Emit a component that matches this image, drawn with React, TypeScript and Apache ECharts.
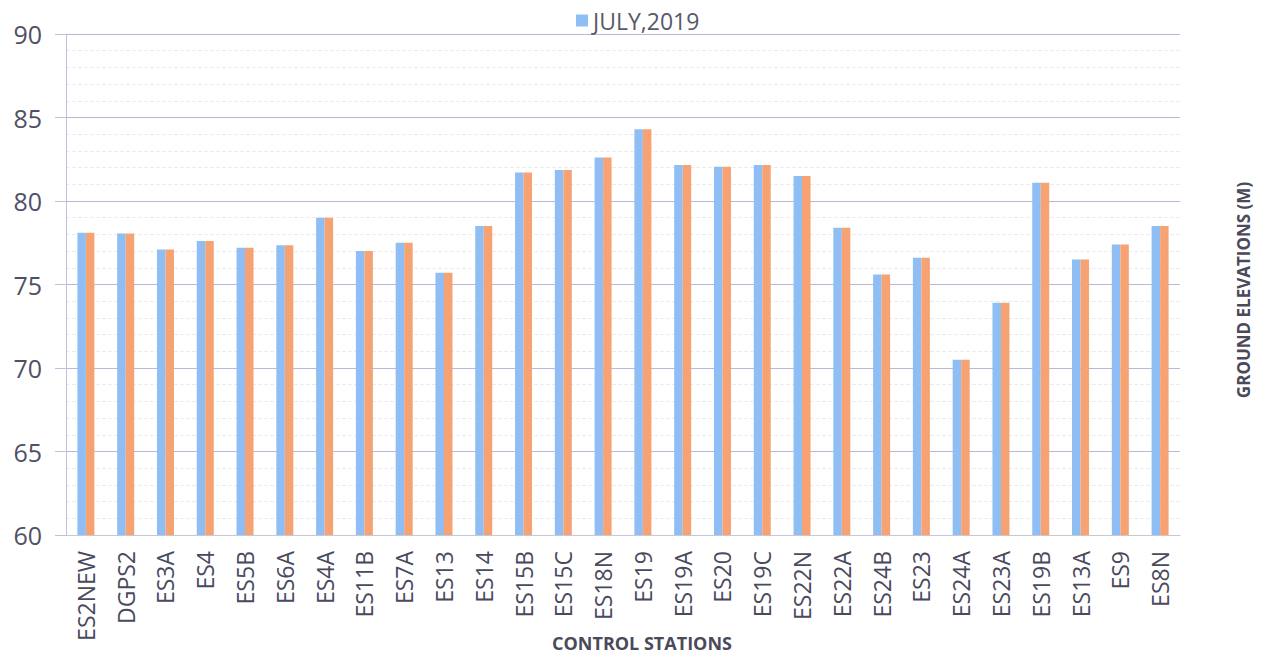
import React, { useEffect, useRef } from "react";
import * as echarts from "echarts";

const stations = ["ES2NEW","DGPS2","ES3A","ES4","ES5B","ES6A","ES4A","ES11B","ES7A","ES13","ES14","ES15B","ES15C","ES18N","ES19","ES19A","ES20","ES19C","ES22N","ES22A","ES24B","ES23","ES24A","ES23A","ES19B","ES13A","ES9","ES8N"];
const july2019 = [78.1,78.05,77.1,77.6,77.2,77.35,79.0,77.0,77.5,75.7,78.5,81.7,81.85,82.6,84.3,82.15,82.05,82.15,81.5,78.4,75.6,76.6,70.5,73.9,81.1,76.5,77.4,78.5];
const secondSeries = [78.1,78.05,77.1,77.6,77.2,77.35,79.0,77.0,77.5,75.7,78.5,81.7,81.85,82.6,84.3,82.15,82.05,82.15,81.5,78.4,75.6,76.6,70.5,73.9,81.1,76.5,77.4,78.5];

export default function App() {
  const ref = useRef<HTMLDivElement>(null);
  useEffect(() => {
    document.body.style.margin = "0";
    const chart = echarts.init(ref.current!, null, { renderer: "svg" });
    const font = "'Open Sans', 'Liberation Sans', sans-serif";
    const textColor = "#58586a";
    chart.setOption({
      animation: false,
      backgroundColor: "#ffffff",
      textStyle: { fontFamily: font },
      legend: {
        data: ["JULY,2019"],
        top: 4,
        left: 571,
        icon: "rect",
        itemWidth: 12,
        itemHeight: 12,
        itemGap: 6,
        textStyle: { fontSize: 23, color: textColor, fontFamily: font },
      },
      grid: { left: 66, right: 93, top: 34, bottom: 120, containLabel: false },
      xAxis: {
        type: "category",
        data: stations,
        axisLine: { show: true, lineStyle: { color: "#c8c8d4", width: 1 } },
        axisTick: { show: false },
        axisLabel: { rotate: 90, fontSize: 23, color: "#4a4a5e", margin: 16, interval: 0, fontFamily: font },
      },
      yAxis: {
        type: "value",
        min: 60,
        max: 90,
        interval: 5,
        axisLine: { show: true, lineStyle: { color: "#c0c0dc", width: 1 } },
        axisTick: { show: true, length: 11, lineStyle: { color: "#c0c0dc" } },
        axisLabel: { fontSize: 25, color: "#505064", margin: 24, fontFamily: font },
        splitLine: { show: true, lineStyle: { color: "#b8b8d8", width: 1 } },
        minorTick: { show: false, splitNumber: 5 },
        minorSplitLine: { show: true, lineStyle: { color: "#ebebf1", width: 1, type: "dashed" } },
      },
      series: [
        {
          name: "JULY,2019",
          type: "bar",
          data: july2019,
          barWidth: 8.5,
          barGap: "0%",
          itemStyle: { color: "#8fbef4" },
        },
        {
          name: "ELEVATION",
          type: "bar",
          data: secondSeries,
          barWidth: 8.5,
          barGap: "0%",
          itemStyle: { color: "#f6a272" },
        },
      ],
      graphic: [
        {
          type: "text",
          x: 642,
          y: 643,
          style: { text: "CONTROL STATIONS", font: `bold 18px ${font}`, fill: "#4a4a5a", align: "center", verticalAlign: "middle" },
        },
        {
          type: "text",
          x: 1243,
          y: 290,
          rotation: Math.PI / 2,
          style: { text: "GROUND ELEVATIONS (M)", font: `bold 17px ${font}`, fill: "#4a4a5a", align: "center", verticalAlign: "middle" },
        },
      ],
    });
    return () => chart.dispose();
  }, []);
  return <div ref={ref} style={{ width: 1273, height: 655 }} />;
}
